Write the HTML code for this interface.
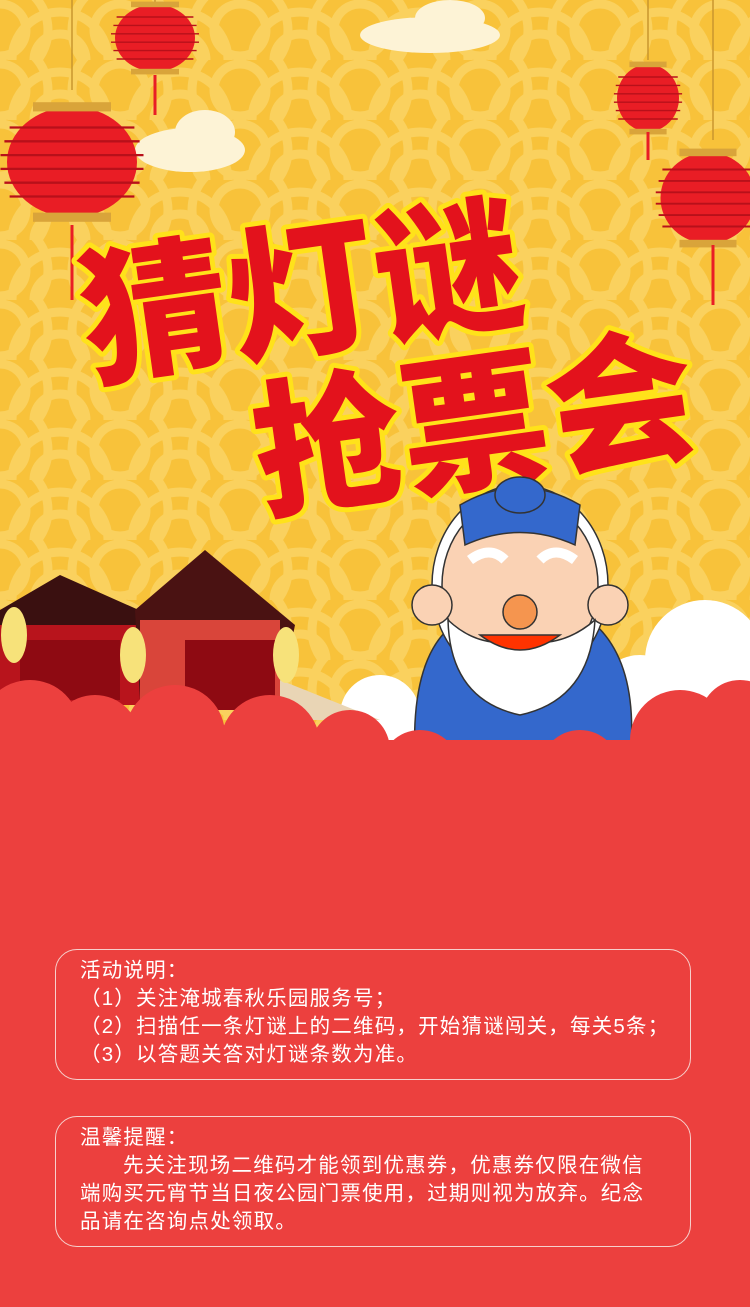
<!DOCTYPE html>
<html><head><meta charset="utf-8">
<style>
html,body{margin:0;padding:0;}
body{width:750px;height:1307px;position:relative;overflow:hidden;background:#EC403E;font-family:"Liberation Sans","Noto Sans CJK SC",sans-serif;}
svg{position:absolute;left:0;top:0;}
.box{position:absolute;left:55px;width:636px;border:1.5px solid #f6d0cc;border-radius:22px;color:#fff;font-size:20.5px;letter-spacing:1.2px;line-height:28px;box-sizing:border-box;padding:7px 0 0 24px;}
.box p{margin:0;}
</style></head>
<body>
<svg width="750" height="780" viewBox="0 0 750 780">
<defs>
<pattern id="scales" width="120" height="60" patternUnits="userSpaceOnUse">
<rect width="120" height="60" fill="#F8C23A"/>
<g fill="none" stroke="#FAD15E" stroke-width="9">
<circle cx="60" cy="60" r="48"/><circle cx="60" cy="60" r="26"/>
<circle cx="0" cy="30" r="48"/><circle cx="0" cy="30" r="26"/>
<circle cx="120" cy="30" r="48"/><circle cx="120" cy="30" r="26"/>
</g>
</pattern>
<g id="lantern">
<rect x="-4" y="-8" width="8" height="10" fill="#c8a33a"/>
<ellipse cx="0" cy="0" rx="50" ry="48" fill="#E91D25"/>
<g stroke="#B8101A" stroke-width="2">
<line x1="-48" y1="-30" x2="48" y2="-30"/><line x1="-52" y1="-18" x2="52" y2="-18"/>
<line x1="-55" y1="-6" x2="55" y2="-6"/><line x1="-55" y1="6" x2="55" y2="6"/>
<line x1="-52" y1="18" x2="52" y2="18"/><line x1="-48" y1="30" x2="48" y2="30"/>
</g>
<rect x="-30" y="-52" width="60" height="8" fill="#D9A43A"/>
<rect x="-30" y="44" width="60" height="8" fill="#D9A43A"/>
</g>
</defs>
<rect width="750" height="760" fill="url(#scales)"/>
<g stroke="#c9962e" stroke-width="1.5">
<line x1="72" y1="0" x2="72" y2="90"/><line x1="155" y1="0" x2="155" y2="10"/>
<line x1="648" y1="0" x2="648" y2="60"/><line x1="713" y1="0" x2="713" y2="140"/>
</g>
<g fill="#FDF3D6">
<ellipse cx="190" cy="150" rx="55" ry="22"/><ellipse cx="205" cy="132" rx="30" ry="22"/>
<ellipse cx="430" cy="35" rx="70" ry="18"/><ellipse cx="450" cy="18" rx="35" ry="18"/>
</g>
<g transform="translate(72,162) scale(1.3,1.15)"><use href="#lantern"/></g>
<g transform="translate(155,38) scale(0.8,0.7)"><use href="#lantern"/></g>
<g transform="translate(648,98) scale(0.62,0.7)"><use href="#lantern"/></g>
<g transform="translate(708,198) scale(0.95,0.95)"><use href="#lantern"/></g>
<g stroke="#E91D25" stroke-width="3"><line x1="72" y1="225" x2="72" y2="300"/><line x1="155" y1="75" x2="155" y2="115"/><line x1="648" y1="132" x2="648" y2="160"/><line x1="713" y1="245" x2="713" y2="305"/></g>
<g font-family="'Noto Sans CJK SC','WenQuanYi Zen Hei',sans-serif" font-weight="900" fill="#E3121C" stroke="#FFE21A" stroke-width="10" paint-order="stroke" stroke-linejoin="round">
<text x="78" y="345" font-size="148" transform="rotate(-8 300 280)">猜灯谜</text>
<text x="250" y="478" font-size="148" transform="rotate(-8 470 410)">抢票会</text>
</g>
<g fill="#fff"><circle cx="705" cy="660" r="60"/><circle cx="640" cy="700" r="45"/><circle cx="380" cy="715" r="40"/></g>
<g>
<polygon points="0,610 60,575 150,615 150,700 0,700" fill="#3a1010"/>
<rect x="0" y="625" width="140" height="80" fill="#B8141C"/>
<rect x="20" y="640" width="100" height="60" fill="#8E0A12"/>
<polygon points="135,610 205,550 295,625 280,700 140,700" fill="#4a1212"/>
<rect x="140" y="620" width="140" height="90" fill="#D9453A"/>
<rect x="185" y="640" width="90" height="70" fill="#8E0A12"/>
<polygon points="280,680 380,720 280,720" fill="#E9D5B5"/>
<ellipse cx="14" cy="635" rx="13" ry="28" fill="#F7E27A"/>
<ellipse cx="133" cy="655" rx="13" ry="28" fill="#F7E27A"/>
<ellipse cx="286" cy="655" rx="13" ry="28" fill="#F7E27A"/>
</g>
<g stroke="#333" stroke-width="1.5">
<path d="M415,760 Q410,650 460,620 L590,620 Q640,660 630,760 Z" fill="#3468CC"/>
<ellipse cx="520" cy="585" rx="88" ry="100" fill="#fff"/>
<ellipse cx="520" cy="585" rx="78" ry="88" fill="#FAD2B4"/>
<circle cx="432" cy="605" r="20" fill="#FAD2B4"/><circle cx="608" cy="605" r="20" fill="#FAD2B4"/>
<path d="M460,505 Q520,470 580,505 L575,545 Q520,520 465,545 Z" fill="#3468CC"/>
<ellipse cx="520" cy="495" rx="25" ry="18" fill="#3468CC"/>
<path d="M448,620 Q450,700 520,715 Q590,700 595,620 Q560,650 520,640 Q480,650 448,620Z" fill="#fff"/>
<circle cx="520" cy="612" r="17" fill="#F5954F"/>
<path d="M480,635 Q520,665 560,635 Z" fill="#FF3300"/>
<path d="M470,560 Q490,545 505,560 M540,560 Q555,545 575,560" fill="none" stroke="#fff" stroke-width="10"/>
</g>
<g fill="#EC403E">
<circle cx="30" cy="730" r="50"/><circle cx="95" cy="740" r="45"/><circle cx="175" cy="735" r="50"/><circle cx="270" cy="745" r="50"/>
<circle cx="350" cy="750" r="40"/><circle cx="420" cy="770" r="40"/><circle cx="490" cy="775" r="35"/><circle cx="580" cy="770" r="40"/>
<circle cx="680" cy="740" r="50"/><circle cx="740" cy="720" r="40"/>
<rect x="0" y="740" width="750" height="40"/>
</g>
</svg>
<div class="box" style="top:949px;height:131px;">
<p>活动说明：</p>
<p>（1）关注淹城春秋乐园服务号；</p>
<p>（2）扫描任一条灯谜上的二维码，开始猜谜闯关，每关5条；</p>
<p>（3）以答题关答对灯谜条数为准。</p>
</div>
<div class="box" style="top:1116px;height:131px;padding-right:28px;">
<p>温馨提醒：</p>
<p style="text-indent:43px">先关注现场二维码才能领到优惠券，优惠券仅限在微信<br>端购买元宵节当日夜公园门票使用，过期则视为放弃。纪念<br>品请在咨询点处领取。</p>
</div>
</body></html>
